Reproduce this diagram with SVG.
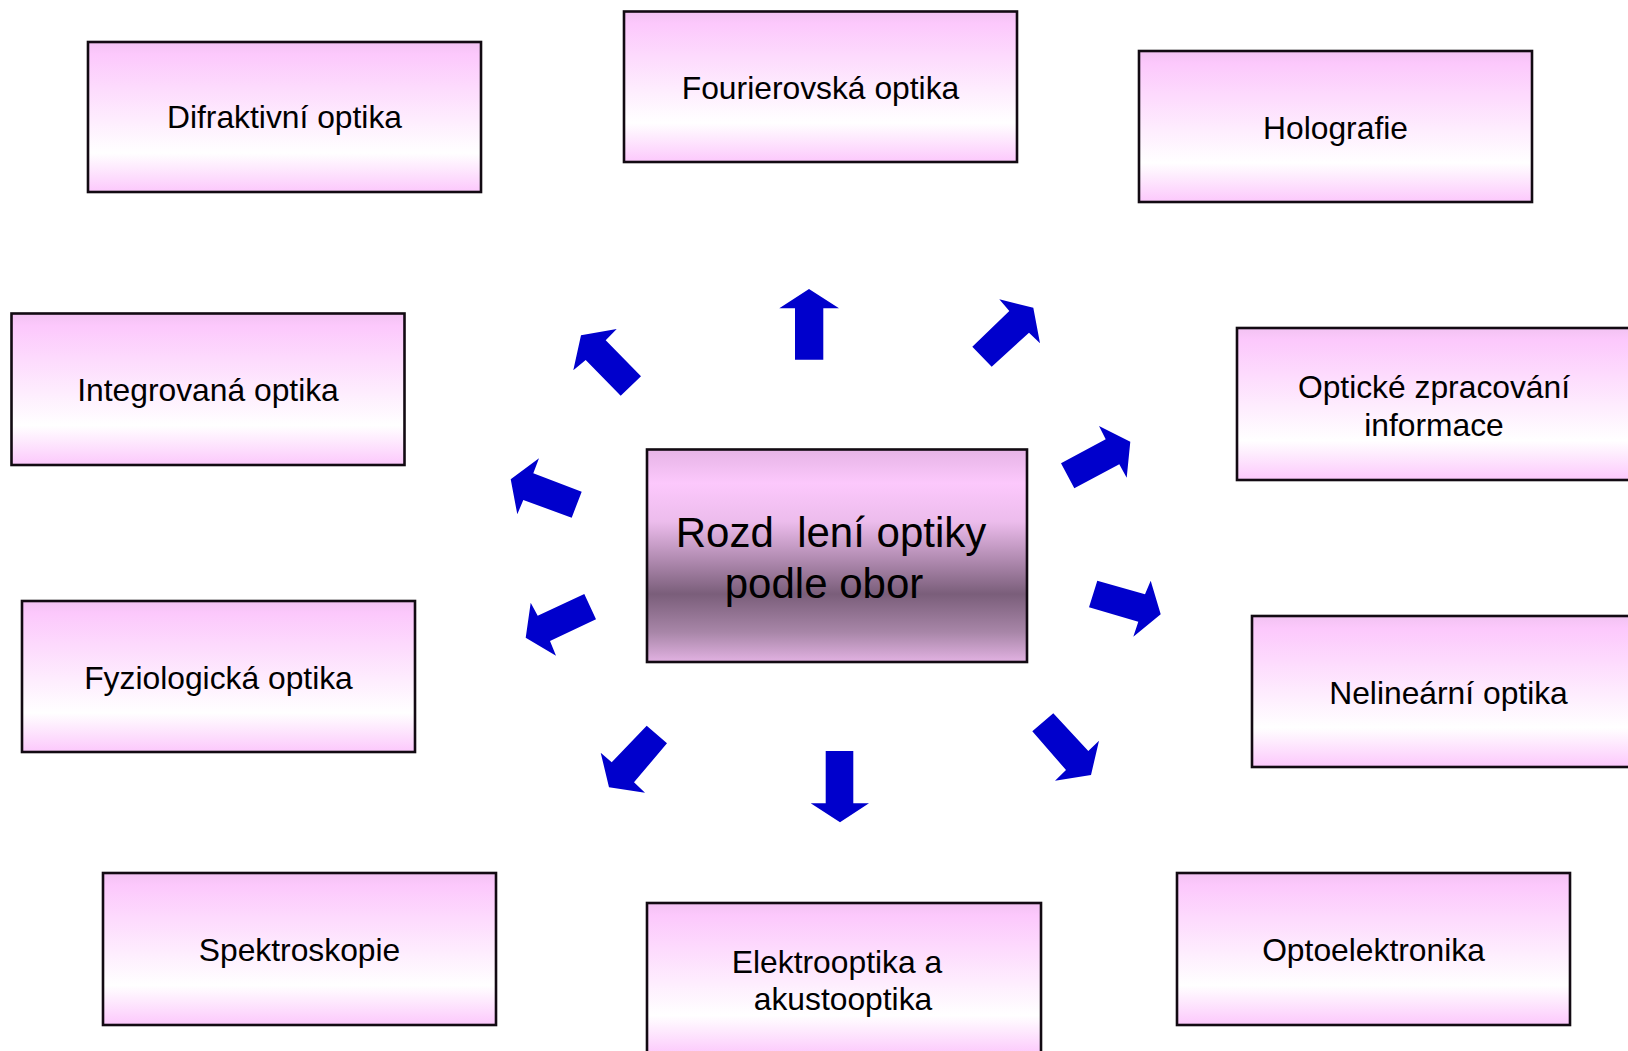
<svg xmlns="http://www.w3.org/2000/svg" width="1628" height="1051" viewBox="0 0 1628 1051">
<defs>
<linearGradient id="gBox" x1="0" y1="0" x2="0" y2="1">
<stop offset="0" stop-color="#f2c2f2"/>
<stop offset="0.08" stop-color="#fcc8fc"/>
<stop offset="0.74" stop-color="#ffffff"/>
<stop offset="1" stop-color="#fcc8fc"/>
</linearGradient>
<linearGradient id="gCenter" x1="0" y1="0" x2="0" y2="1">
<stop offset="0" stop-color="#e6b4e6"/>
<stop offset="0.16" stop-color="#fcc8fc"/>
<stop offset="0.34" stop-color="#ecbcec"/>
<stop offset="0.52" stop-color="#b08ab0"/>
<stop offset="0.68" stop-color="#7a5e7a"/>
<stop offset="0.86" stop-color="#a886a8"/>
<stop offset="1" stop-color="#e2b2e2"/>
</linearGradient>
</defs>
<style>
.box{fill:url(#gBox);stroke:#120a12;stroke-width:2.6}
.ctr{fill:url(#gCenter);stroke:#120a12;stroke-width:2.6}
.lbl{font-family:"Liberation Sans",Arial,sans-serif;font-size:31.8px;fill:#000;text-anchor:middle}
.big{font-family:"Liberation Sans",Arial,sans-serif;font-size:42px;fill:#000;text-anchor:middle}
.arr{fill:#0000cc}
</style>
<rect width="1628" height="1051" fill="#ffffff"/>

<g id="center">
<rect class="ctr" x="647" y="449.5" width="380" height="212.5"/>
<text class="big" x="831" y="547" xml:space="preserve">Rozd  lení optiky</text>
<text class="big" x="824" y="598">podle obor</text>
</g>

<g id="difraktivni">
<rect class="box" x="88" y="42" width="393" height="150"/>
<text class="lbl" x="284.5" y="128">Difraktivní optika</text>
</g>
<g id="fourierovska">
<rect class="box" x="624" y="11.5" width="393" height="150.5"/>
<text class="lbl" x="820.5" y="99">Fourierovská optika</text>
</g>
<g id="holografie">
<rect class="box" x="1139" y="51" width="393" height="151"/>
<text class="lbl" x="1335.5" y="139">Holografie</text>
</g>
<g id="integrovana">
<rect class="box" x="11.5" y="313.5" width="393" height="151.5"/>
<text class="lbl" x="208" y="401">Integrovaná optika</text>
</g>
<g id="opticke-zpracovani">
<rect class="box" x="1237" y="328" width="393" height="152"/>
<text class="lbl" x="1434" y="398">Optické zpracování</text>
<text class="lbl" x="1434" y="436">informace</text>
</g>
<g id="fyziologicka">
<rect class="box" x="22" y="601" width="393" height="151"/>
<text class="lbl" x="218.5" y="689">Fyziologická optika</text>
</g>
<g id="nelinearni">
<rect class="box" x="1252" y="616" width="393" height="151"/>
<text class="lbl" x="1448.5" y="704">Nelineární optika</text>
</g>
<g id="spektroskopie">
<rect class="box" x="103" y="873" width="393" height="152"/>
<text class="lbl" x="299.5" y="961">Spektroskopie</text>
</g>
<g id="elektrooptika">
<rect class="box" x="647" y="903" width="394" height="152"/>
<text class="lbl" x="837" y="973">Elektrooptika a</text>
<text class="lbl" x="843" y="1010">akustooptika</text>
</g>
<g id="optoelektronika">
<rect class="box" x="1177" y="873" width="393" height="152"/>
<text class="lbl" x="1373.5" y="961">Optoelektronika</text>
</g>

<g id="connectors">
<polygon class="arr" points="581,335.3 616.7,329 605.7,340.3 641,376.3 620.7,395.7 585.7,360 573.3,370.3"/>
<polygon class="arr" points="809,289 839,308.3 823.3,308.3 823.3,359.7 795,359.7 795,308.3 779.3,308.3"/>
<polygon class="arr" points="1033.3,307.7 1040,343.3 1029,332.7 991.7,366.7 972.3,346.7 1009.3,311 999.3,299.3"/>
<polygon class="arr" points="1130.3,441.7 1126.7,477.7 1119.3,464.3 1074.3,488.3 1061,463.3 1105.7,439.3 1099,426"/>
<polygon class="arr" points="1160.7,614.3 1133.3,636.7 1138.3,621.7 1089,607.3 1097.3,580.7 1145,594.3 1150.7,580.7"/>
<polygon class="arr" points="1091,775 1055,780.7 1066,770 1032.3,731.3 1053.3,713.3 1088.3,751 1099,740.7"/>
<polygon class="arr" points="840,822.3 810.7,803.3 825.7,803.3 825.7,751 853.3,751 853.3,803.3 869,803.3"/>
<polygon class="arr" points="609,787.3 600.7,752.7 611.7,762.3 646.7,725.7 667,743.3 634,782.3 645,792.7"/>
<polygon class="arr" points="525.7,637.7 530.7,602.7 537.7,615.7 584.3,594 596,619.3 550,641 556,655.7"/>
<polygon class="arr" points="510.7,479.3 539,458.3 533.3,473.3 581.7,491.7 571.7,517.7 523.3,500 517.3,514.3"/>
</g>
</svg>
